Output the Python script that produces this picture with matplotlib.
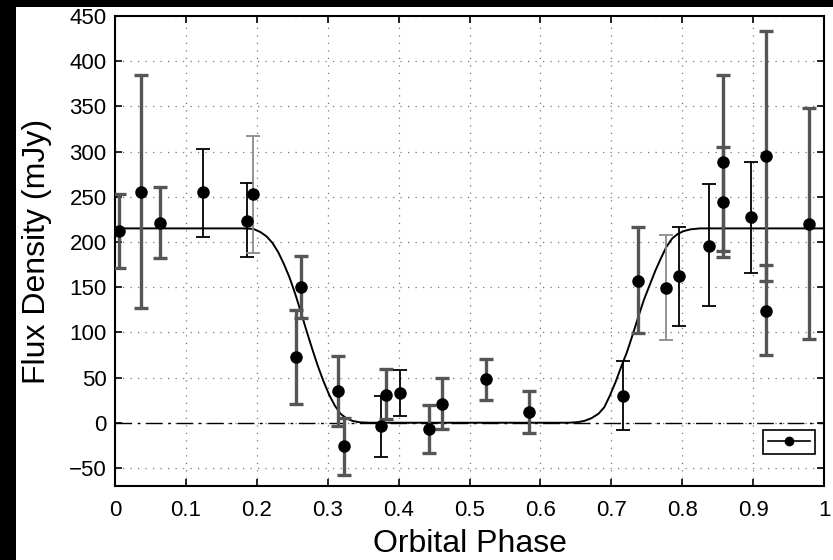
import matplotlib
matplotlib.use("Agg")
import matplotlib.pyplot as plt
from matplotlib.lines import Line2D
from matplotlib.patches import Rectangle

plt.rcParams['font.family'] = ['Liberation Sans', 'DejaVu Sans']

# observed points: phase, flux and the ends of each error bar (mJy)
phase = [0.005, 0.037, 0.064, 0.124, 0.186, 0.194, 0.255, 0.263, 0.315, 0.323,
         0.375, 0.382, 0.402, 0.443, 0.461, 0.523, 0.584, 0.716, 0.737, 0.777,
         0.796, 0.838, 0.857, 0.857, 0.897, 0.918, 0.918, 0.979]
flux = [212, 255, 221, 255, 223, 253, 73, 150, 35, -26,
        -4, 31, 33, -7, 21, 48, 12, 30, 157, 149,
        162, 196, 288, 244, 228, 295, 124, 220]
flux_lo = [171, 127, 182, 206, 183, 188, 21, 116, -4, -58,
           -38, 4, 8, -34, -7, 25, -11, -8, 99, 91,
           107, 129, 190, 183, 166, 157, 75, 93]
flux_hi = [253, 385, 261, 303, 265, 317, 125, 184, 74, 5,
           30, 59, 58, 20, 49, 71, 35, 68, 217, 208,
           217, 264, 305, 385, 288, 433, 174, 348]
# how each error bar is drawn in the original
bar_style = ['thick', 'thick', 'thick', 'thin', 'thin', 'light', 'thick', 'thick', 'thick', 'thick',
             'thin', 'thick', 'thin', 'thick', 'thick', 'thick', 'thick', 'thin', 'thick', 'light',
             'thin', 'thin', 'thick', 'thick', 'thin', 'thick', 'thick', 'thick']

# eclipse model curve
model_phase = [0.0, 0.18, 0.195, 0.205, 0.214, 0.222, 0.230, 0.238, 0.246, 0.254,
               0.262, 0.270, 0.278, 0.286, 0.294, 0.302, 0.310, 0.318, 0.326, 0.335,
               0.345, 0.36, 0.64, 0.652, 0.662, 0.672, 0.682, 0.690, 0.698, 0.706,
               0.714, 0.722, 0.730, 0.738, 0.746, 0.754, 0.762, 0.770, 0.778, 0.786,
               0.794, 0.802, 0.812, 0.825, 1.0]
model_flux = [215, 215, 214.5, 211, 206, 199, 189, 176, 161, 143,
              123, 102, 82, 63, 46, 31, 19, 10, 5, 2,
              0.5, 0, 0, 0.6, 2, 5, 10, 17, 30, 45,
              62, 78, 97, 117, 136, 152, 168, 182, 195, 204,
              209, 212, 214, 215, 215]

xticks = [0, 0.1, 0.2, 0.3, 0.4, 0.5, 0.6, 0.7, 0.8, 0.9, 1]
xticklabels = ['0', '0.1', '0.2', '0.3', '0.4', '0.5', '0.6', '0.7', '0.8', '0.9', '1']
yticks = list(range(-50, 451, 50))

styles = {
    'thick': dict(color='#555555', lw=2.4),
    'thin': dict(color='black', lw=1.3),
    'light': dict(color='#8a8a8a', lw=1.3),
}

fig = plt.figure(figsize=(8.33, 5.6), dpi=100, facecolor='white')
# black strips along the left and top edge of the scan
fig.patches.append(Rectangle((0, 0), 16 / 833, 1, transform=fig.transFigure,
                             facecolor='black', edgecolor='none', zorder=-10))
fig.patches.append(Rectangle((0, (560 - 7) / 560), 1, 7 / 560, transform=fig.transFigure,
                             facecolor='black', edgecolor='none', zorder=-10))

ax = fig.add_axes([115 / 833, 74 / 560, 709 / 833, 470 / 560])

ax.axhline(0, color='black', lw=1.0, linestyle=(0, (12, 4, 2, 4)), zorder=2)
ax.plot(model_phase, model_flux, color='black', lw=1.4, zorder=3)

for x, y, lo, hi, st in zip(phase, flux, flux_lo, flux_hi, bar_style):
    s = styles[st]
    ax.errorbar([x], [y], yerr=[[y - lo], [hi - y]], fmt='none', ecolor=s['color'],
                elinewidth=s['lw'], capsize=5, capthick=s['lw'], zorder=4)
ax.plot(phase, flux, 'o', color='black', ms=8, zorder=5)

ax.set_xlim(0, 1)
ax.set_ylim(-70, 450)
ax.set_xticks(xticks)
ax.set_xticklabels(xticklabels)
ax.set_yticks(yticks)
ax.tick_params(direction='in', top=True, right=True, length=5, width=1.2,
               labelsize=16, colors='black')
ax.tick_params(axis='x', pad=10)
ax.tick_params(axis='y', pad=6)
ax.grid(True, color='#777777', linestyle=(0, (1, 5)), lw=0.9)
for sp in ax.spines.values():
    sp.set_linewidth(1.5)

ax.set_xlabel('Orbital Phase', fontsize=23, labelpad=6)
ax.set_ylabel('Flux Density (mJy)', fontsize=23, labelpad=12)

handle = Line2D([], [], color='black', lw=1.2, marker='o', ms=6)
leg = ax.legend([handle], [''], loc='lower right', bbox_to_anchor=(0.987, 0.068),
                borderaxespad=0, handlelength=3.0, handletextpad=0, borderpad=0.35,
                fancybox=False, framealpha=1, edgecolor='black')
leg.get_frame().set_linewidth(1.2)

fig.savefig('out.png', dpi=100, facecolor='white')
